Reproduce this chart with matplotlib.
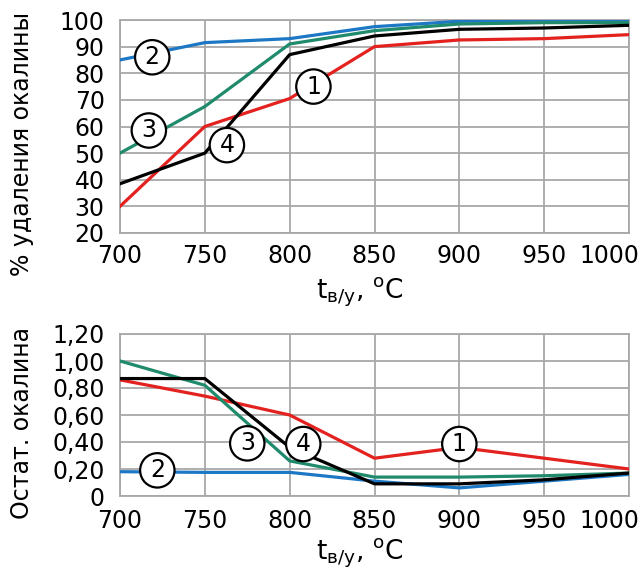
import matplotlib
matplotlib.use("Agg")
import matplotlib.pyplot as plt
from matplotlib.transforms import ScaledTranslation

plt.rcParams['font.family'] = ['DejaVu Sans']
plt.rcParams['mathtext.fontset'] = 'dejavusans'

temps = [700, 750, 800, 850, 900, 950, 1000]

# % удаления окалины
removal_1 = [30, 60, 70.5, 90, 92.5, 93, 94.5]
removal_2 = [85, 91.5, 93, 97.5, 99.5, 100, 100]
removal_3 = [50, 67.5, 91, 96, 98.5, 99, 99]
removal_4 = [38.5, 50, 87, 94, 96.5, 97, 98]

# остаточная окалина
resid_1 = [0.86, 0.74, 0.60, 0.28, 0.36, 0.28, 0.20]
resid_2 = [0.18, 0.175, 0.175, 0.11, 0.06, 0.11, 0.16]
resid_3 = [1.00, 0.82, 0.26, 0.14, 0.14, 0.15, 0.17]
resid_4 = [0.87, 0.87, 0.36, 0.09, 0.09, 0.12, 0.17]

top_yticks = [20, 30, 40, 50, 60, 70, 80, 90, 100]
bot_yticks = [0, 0.2, 0.4, 0.6, 0.8, 1.0, 1.2]
bot_ylabels = ['0', '0,20', '0,40', '0,60', '0,80', '1,00', '1,20']

top_marks = [('1', 814, 75), ('2', 719, 86), ('3', 717, 58.5), ('4', 763, 53)]
bot_marks = [('1', 900, 0.385), ('2', 722, 0.19), ('3', 775, 0.39), ('4', 808, 0.385)]

colors = {'1': '#e3211f', '2': '#1c78c4', '3': '#1f8a6c', '4': '#000000'}
grid_c = '#a8a8a8'
fs = 17

fig = plt.figure(figsize=(6.41, 5.74), dpi=100)
ax1 = fig.add_axes([120/641, 1-233/574, 509/641, 213/574])
ax2 = fig.add_axes([120/641, 1-496/574, 509/641, 162/574])


def style(ax, ylo, yhi, yticks, ylabels, pad_x):
    ax.set_xlim(700, 1000)
    ax.set_ylim(ylo, yhi)
    ax.set_xticks(temps)
    ax.set_yticks(yticks)
    if ylabels is not None:
        ax.set_yticklabels(ylabels)
    ax.grid(True, color=grid_c, lw=1.3)
    ax.set_axisbelow(True)
    for s in ax.spines.values():
        s.set_color(grid_c)
        s.set_linewidth(1.3)
    ax.tick_params(length=0, labelsize=fs, pad=pad_x, axis='x')
    ax.tick_params(length=0, labelsize=fs, pad=11, axis='y')
    lbl = ax.get_xticklabels()[-1]
    lbl.set_transform(lbl.get_transform() + ScaledTranslation(-20/100, 0, fig.dpi_scale_trans))


style(ax1, 20, 100, top_yticks, None, 8)
style(ax2, 0, 1.2, bot_yticks, bot_ylabels, 9)

for key, ys in zip('1234', [removal_1, removal_2, removal_3, removal_4]):
    ax1.plot(temps, ys, color=colors[key], lw=2.3, zorder=3)
for key, ys in zip('1234', [resid_1, resid_2, resid_3, resid_4]):
    ax2.plot(temps, ys, color=colors[key], lw=2.3, zorder=3)

for ax, marks in [(ax1, top_marks), (ax2, bot_marks)]:
    for t, x, y in marks:
        ax.text(x, y, t, fontsize=fs, ha='center', va='center', zorder=5,
                bbox=dict(boxstyle='circle,pad=0.22', fc='white', ec='black', lw=1.6))

ax1.set_ylabel('% удаления окалины', fontsize=17)
ax1.yaxis.set_label_coords(-0.168, 0.42)
ax2.set_ylabel('Остат. окалина', fontsize=17)
ax2.yaxis.set_label_coords(-0.168, 0.45)

xl = r't$_{\mathregular{в/у}}$, $^{\mathregular{o}}$C'
fig.text(360/641, 1-292/574, xl, fontsize=19, ha='center', va='center')
fig.text(360/641, 1-553/574, xl, fontsize=19, ha='center', va='center')

fig.savefig('out.png', dpi=100)
